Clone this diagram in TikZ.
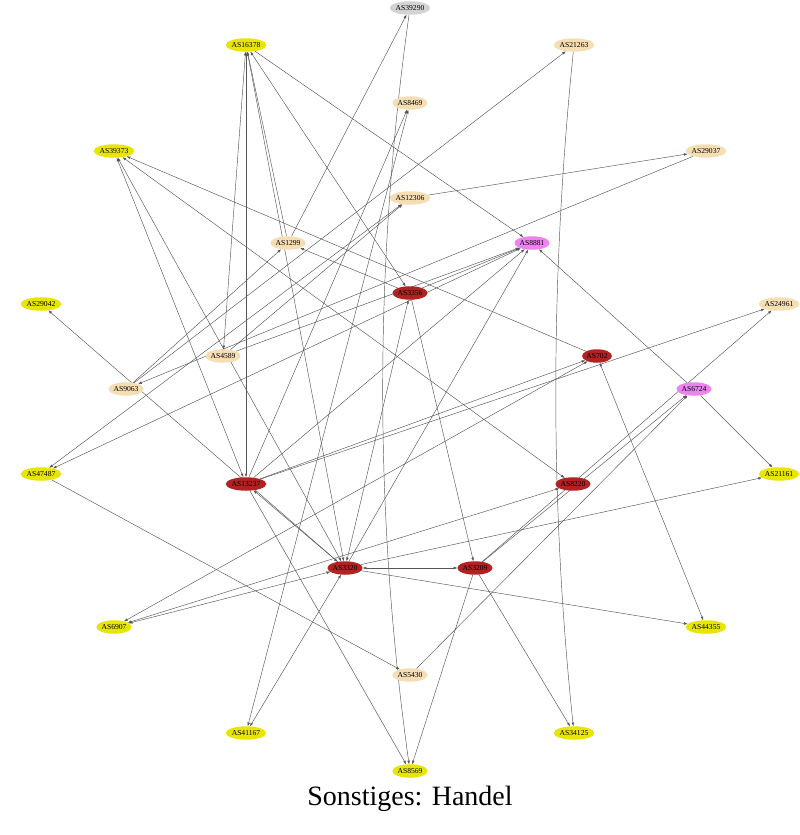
\documentclass[tikz,border=0pt]{standalone}
\usepackage{fontspec}
\setmainfont{Liberation Serif}
\usetikzlibrary{shapes.geometric,arrows.meta}
\definecolor{cyel}{RGB}{232,230,0}
\definecolor{cwheat}{RGB}{245,222,179}
\definecolor{cred}{RGB}{178,34,34}
\definecolor{cviol}{RGB}{238,130,238}
\definecolor{cgray}{RGB}{211,211,211}
\definecolor{edgec}{RGB}{85,85,85}
\pgfdeclarelayer{bg}
\pgfsetlayers{bg,main}
\begin{document}
\begin{tikzpicture}[x=1pt,y=-1pt,
  asnode/.style={ellipse,inner xsep=0pt,inner ysep=0pt,minimum height=13.5pt,minimum width=28pt,font=\fontsize{7.6}{8}\selectfont},
  yel/.style={asnode,fill=cyel},
  wht/.style={asnode,fill=cwheat},
  rd/.style={asnode,fill=cred},
  vio/.style={asnode,fill=cviol},
  gry/.style={asnode,fill=cgray},
  tip/.tip={Triangle[length=3.5pt,width=2.4pt]},
  link/.style={draw=edgec,line width=0.45pt,-tip},
  blink/.style={draw=edgec,line width=0.45pt,tip-tip}
]
\useasboundingbox (0,0) rectangle (800,835);
% nodes
\node[gry] (n39290) at (410,8) {AS39290};
\node[yel] (n16378) at (246,45) {AS16378};
\node[wht] (n21263) at (574,45) {AS21263};
\node[wht] (n8469) at (410,103) {AS8469};
\node[yel] (n39373) at (114,151) {AS39373};
\node[wht] (n29037) at (706,151) {AS29037};
\node[wht] (n12306) at (410,198) {AS12306};
\node[wht] (n1299) at (288,243) {AS1299};
\node[vio] (n8881) at (532,243) {AS8881};
\node[rd] (n3356) at (410,293) {AS3356};
\node[yel] (n29042) at (41,304) {AS29042};
\node[wht] (n24961) at (779,304) {AS24961};
\node[wht] (n4589) at (223,356) {AS4589};
\node[rd] (n702) at (597,356) {AS702};
\node[wht] (n9063) at (126,389) {AS9063};
\node[vio] (n6724) at (694,389) {AS6724};
\node[yel] (n47487) at (41,474) {AS47487};
\node[rd] (n13237) at (246,484) {AS13237};
\node[rd] (n8220) at (573,484) {AS8220};
\node[yel] (n21161) at (779,474) {AS21161};
\node[rd] (n3320) at (345,568) {AS3320};
\node[rd] (n3209) at (475,568) {AS3209};
\node[yel] (n6907) at (114,627) {AS6907};
\node[yel] (n44355) at (706,627) {AS44355};
\node[wht] (n5430) at (410,675) {AS5430};
\node[yel] (n41167) at (246,733) {AS41167};
\node[yel] (n34125) at (574,733) {AS34125};
\node[yel] (n8569) at (410,771) {AS8569};
\node[anchor=base,font=\fontsize{28}{30}\selectfont] (title) at (410,805) {Sonstiges: Handel};
% edges
\begin{pgfonlayer}{bg}
\draw[link] (n1299) -- (n39290);
\draw[link] (n39290) .. controls (374,264) and (374,513) .. (n8569);
\draw[link] (n21263) .. controls (550,280) and (550,505) .. (n34125);
\draw[link] (n9063) -- (n21263);
\draw[link] (n12306) -- (n29037);
\draw[link] (n29037) -- (n9063);
\draw[link] (n9063) -- (n1299);
\draw[link] (n3356) -- (n1299);
\draw[blink] (n3356) -- (n16378);
\draw[link] (n16378) -- (n8881);
\draw[blink] (n13237) -- (n16378);
\draw[blink] (n4589) -- (n16378);
\draw[link] (n1299) -- (n16378);
\draw[blink] (n3320) -- (n16378);
\draw[blink] (n13237) -- (n39373);
\draw[blink] (n8220) -- (n39373);
\draw[blink] (n3320) -- (n39373);
\draw[link] (n702) -- (n39373);
\draw[link] (n3320) -- (n29042);
\draw[blink] (n47487) -- (n12306);
\draw[blink] (n47487) -- (n8881);
\draw[link] (n47487) -- (n5430);
\draw[link] (n4589) -- (n12306);
\draw[link] (n4589) -- (n8881);
\draw[link] (n13237) -- (n8469);
\draw[blink] (n41167) -- (n8469);
\draw[link] (n13237) -- (n8881);
\draw[link] (n13237) -- (n702);
\draw[link] (n13237) -- (n24961);
\draw[blink] (n13237) -- (n3320);
\draw[link] (n13237) -- (n8569);
\draw[link] (n3320) -- (n8881);
\draw[link] (n3356) -- (n8881);
\draw[blink] (n3356) -- (n3320);
\draw[link] (n3356) -- (n3209);
\draw[blink] (n3320) -- (n3209);
\draw[link] (n3320) -- (n44355);
\draw[blink] (n702) -- (n44355);
\draw[blink] (n3320) -- (n41167);
\draw[blink] (n702) -- (n6907);
\draw[blink] (n8220) -- (n6907);
\draw[blink] (n3320) -- (n6907);
\draw[link] (n3320) -- (n21161);
\draw[link] (n6724) -- (n8881);
\draw[link] (n6724) -- (n21161);
\draw[link] (n5430) -- (n6724);
\draw[link] (n3209) -- (n6724);
\draw[link] (n3209) -- (n24961);
\draw[link] (n3209) -- (n8569);
\draw[link] (n3209) -- (n34125);
\end{pgfonlayer}
\end{tikzpicture}
\end{document}
